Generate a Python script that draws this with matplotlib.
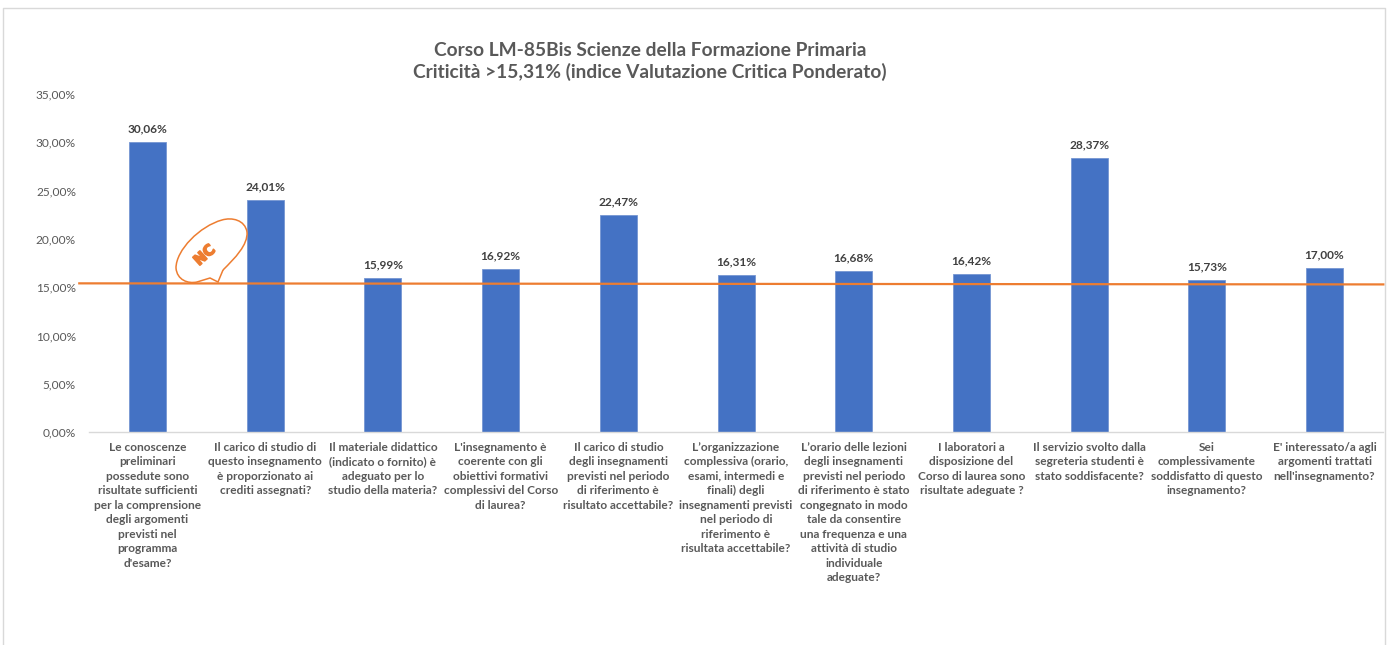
# Corso LM-85Bis: critical items vs threshold
import matplotlib
matplotlib.use("Agg")
import matplotlib.patheffects as pe
import matplotlib.pyplot as plt
from matplotlib.lines import Line2D
from matplotlib.patches import PathPatch
from matplotlib.path import Path
from matplotlib.transforms import Affine2D

plt.rcParams["font.family"] = ["Lato", "DejaVu Sans"]

WIDTH = 1394
HEIGHT = 645

TITLE = (
    "Corso LM-85Bis Scienze della Formazione Primaria\n"
    "Criticità >15,31% (indice Valutazione Critica Ponderato)"
)

categories = [
    "Le conoscenze\npreliminari\npossedute sono\nrisultate sufficienti\nper la comprensione\ndegli argomenti\nprevisti nel\nprogramma\nd'esame?",
    "Il carico di studio di\nquesto insegnamento\nè proporzionato ai\ncrediti assegnati?",
    "Il materiale didattico\n(indicato o fornito) è\nadeguato per lo\nstudio della materia?",
    "L'insegnamento è\ncoerente con gli\nobiettivi formativi\ncomplessivi del Corso\ndi laurea?",
    "Il carico di studio\ndegli insegnamenti\nprevisti nel periodo\ndi riferimento è\nrisultato accettabile?",
    "L’organizzazione\ncomplessiva (orario,\nesami, intermedi e\nfinali) degli\ninsegnamenti previsti\nnel periodo di\nriferimento è\nrisultata accettabile?",
    "L’orario delle lezioni\ndegli insegnamenti\nprevisti nel periodo\ndi riferimento è stato\ncongegnato in modo\ntale da consentire\nuna frequenza e una\nattività di studio\nindividuale\nadeguate?",
    "I laboratori a\ndisposizione del\nCorso di laurea sono\nrisultate adeguate ?",
    "Il servizio svolto dalla\nsegreteria studenti è\nstato soddisfacente?",
    "Sei\ncomplessivamente\nsoddisfatto di questo\ninsegnamento?",
    "E' interessato/a agli\nargomenti trattati\nnell'insegnamento?",
]
values = [30.06, 24.01, 15.99, 16.92, 22.47, 16.31, 16.68, 16.42, 28.37, 15.73, 17.00]
y_ticks = [0, 5, 10, 15, 20, 25, 30, 35]

# hand-drawn threshold line, slightly tilted in the original
threshold_x = [-0.58, 10.5]
threshold_y = [15.41, 15.30]


def pct(value):
    return f"{value:.2f}".replace(".", ",") + "%"


def px_rect(left, top, right, bottom):
    return [left / WIDTH, 1 - bottom / HEIGHT, (right - left) / WIDTH, (bottom - top) / HEIGHT]


def main() -> None:
    fig = plt.figure(figsize=(WIDTH / 100, HEIGHT / 100), dpi=100)
    ax = fig.add_axes(px_rect(88.7, 94, 1383.4, 432.3))

    x = list(range(len(values)))
    ax.bar(x, values, width=0.314, color="#4472C4", edgecolor="#7596d2", linewidth=0.6)
    ax.plot(threshold_x, threshold_y, color="#ED7D31", linewidth=1.6, clip_on=False, zorder=4)

    for xi, value in zip(x, values):
        ax.annotate(
            pct(value),
            (xi, value),
            xytext=(0, 9.3),
            textcoords="offset points",
            ha="center",
            va="center",
            fontsize=8.6,
            fontweight="bold",
            color="#404040",
        )

    ax.set_xlim(-0.5, len(values) - 0.5)
    ax.set_ylim(0, 35)
    ax.set_yticks(y_ticks, [pct(v) for v in y_ticks])
    ax.set_xticks(x, categories)
    ax.tick_params(axis="y", length=0, pad=9.2, labelsize=8.6, labelcolor="#595959")
    ax.tick_params(axis="x", length=0, pad=6.8, labelsize=8.6, labelcolor="#595959")
    for label in ax.get_yticklabels():
        label.set_verticalalignment("center_baseline")
    for label in ax.get_xticklabels():
        label.set_fontweight("bold")
        label.set_linespacing(1.39)
        label.set_multialignment("center")

    for side in ["top", "left", "right"]:
        ax.spines[side].set_visible(False)
    ax.spines["bottom"].set_color("#D9D9D9")
    ax.spines["bottom"].set_linewidth(1)

    fig.text(
        650 / WIDTH,
        1 - 61.5 / HEIGHT,
        TITLE,
        ha="center",
        va="center",
        fontsize=13.75,
        fontweight="bold",
        color="#595959",
        linespacing=1.26,
    )

    # chart frame, open at the bottom
    frame_x = [3.5 / WIDTH, 3.5 / WIDTH, 1385 / WIDTH, 1385 / WIDTH]
    frame_y = [0, 1 - 8 / HEIGHT, 1 - 8 / HEIGHT, 0]
    fig.add_artist(Line2D(frame_x, frame_y, color="#D9D9D9", linewidth=1))

    # speech bubble with the NC logo, in pixels from the top left
    bubble = [
        (Path.MOVETO, (223, 270)),
        (Path.CURVE4, (235, 258)),
        (Path.CURVE4, (248, 245)),
        (Path.CURVE4, (247, 232)),
        (Path.CURVE4, (245, 220)),
        (Path.CURVE4, (232, 217)),
        (Path.CURVE4, (222, 220)),
        (Path.CURVE4, (200, 226)),
        (Path.CURVE4, (176, 250)),
        (Path.CURVE4, (176, 268)),
        (Path.CURVE4, (177, 280)),
        (Path.CURVE4, (188, 284)),
        (Path.CURVE4, (197, 282)),
        (Path.LINETO, (210, 278)),
        (Path.LINETO, (218, 282)),
        (Path.LINETO, (223, 270)),
    ]
    codes = [code for code, _ in bubble]
    verts = [point for _, point in bubble]
    to_fig = Affine2D().scale(1 / WIDTH, -1 / HEIGHT).translate(0, 1) + fig.transFigure
    fig.add_artist(
        PathPatch(Path(verts, codes), transform=to_fig, facecolor="none", edgecolor="#ED7D31", linewidth=1.1)
    )
    logo = fig.text(
        204.5 / WIDTH,
        1 - 255 / HEIGHT,
        "NC",
        ha="center",
        va="center",
        rotation=42,
        rotation_mode="anchor",
        fontsize=10.5,
        fontweight="bold",
        family=["DejaVu Sans"],
        color="#ED7D31",
    )
    logo.set_path_effects([pe.withStroke(linewidth=1.2, foreground="#ED7D31")])

    fig.savefig("out.png", dpi=100)
    plt.close(fig)


if __name__ == "__main__":
    main()
